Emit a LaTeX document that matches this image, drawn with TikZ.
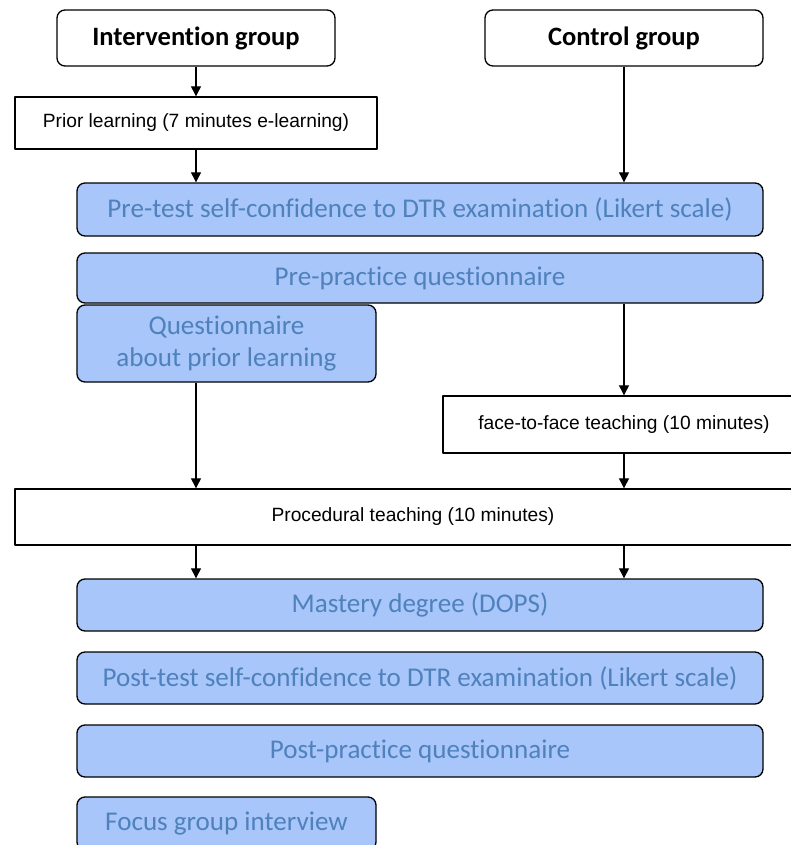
\documentclass[tikz,border=0pt]{standalone}
\usepackage{fontspec}
\setmainfont{Liberation Sans}
\newfontfamily\calibfont[Ligatures=NoCommon]{Carlito}
\usetikzlibrary{positioning,calc,arrows.meta}
\definecolor{boxfill}{RGB}{168,198,249}
\definecolor{boxtext}{RGB}{79,129,189}

\begin{document}
\begin{tikzpicture}[x=0.75pt, y=-0.75pt, >={Triangle[width=7.5pt,length=7.5pt]}, line join=round,
  wh/.style 2 args={minimum width=#1*0.75pt, minimum height=#2*0.75pt, inner sep=0pt},
  grp/.style={draw, rounded corners=6pt, line width=1pt, font=\calibfont\bfseries\fontsize{19.9}{22}\selectfont},
  plain/.style={draw, line width=1pt, font=\fontsize{14.4}{17}\selectfont},
  bluebox/.style={draw, fill=boxfill, text=boxtext, rounded corners=6pt, line width=1pt, font=\calibfont\fontsize{20.3}{23.5}\selectfont},
  flow/.style={->, line width=0.8pt}]
  \useasboundingbox (0,0) rectangle (791,845);
  % groups
  \node[grp, wh={278}{56}] (ig) at (196,38) {Intervention group};
  \node[grp, wh={278}{56}] (cg) at (624,38) {Control group};
  \node[plain, wh={362}{52}] (prior) at (196,123) {Prior learning (7 minutes e-learning)};
  % questionnaires before practice
  \node[bluebox, wh={686}{53}] (pretest) at (420,209.5) {Pre-test self-confidence to DTR examination (Likert scale)};
  \node[bluebox, wh={686}{50}] (prepract) at (420,278) {Pre-practice questionnaire};
  \node[bluebox, wh={299}{77}, align=center] (quest) at (226.5,343.5) {Questionnaire\\about prior learning};
  % teaching
  \node[plain, wh={362}{57}] (face) at (624,424.5) {face-to-face teaching (10 minutes)};
  \node[plain, wh={796}{56}] (proc) at (413,517) {Procedural teaching (10 minutes)};
  % assessment
  \node[bluebox, wh={686}{52}] (mastery) at (420,605) {Mastery degree (DOPS)};
  \node[bluebox, wh={686}{52}] (posttest) at (420,678) {Post-test self-confidence to DTR examination (Likert scale)};
  \node[bluebox, wh={686}{52}] (postpract) at (420,751) {Post-practice questionnaire};
  \node[bluebox, wh={299}{53}] (focus) at (226.5,823.5) {Focus group interview};
  % connectors
  \draw[flow] (ig) -- (prior);
  \draw[flow] (prior.south) -- (prior.south |- pretest.north);
  \draw[flow] (cg.south) -- (cg.south |- pretest.north);
  \draw[flow] (prepract.south -| cg.south) -- (face.north);
  \draw[flow] (quest.south -| ig.south) -- (proc.north -| ig.south);
  \draw[flow] (face.south) -- (proc.north -| face.south);
  \draw[flow] (proc.south -| ig.south) -- (mastery.north -| ig.south);
  \draw[flow] (proc.south -| cg.south) -- (mastery.north -| cg.south);
\end{tikzpicture}
\end{document}
